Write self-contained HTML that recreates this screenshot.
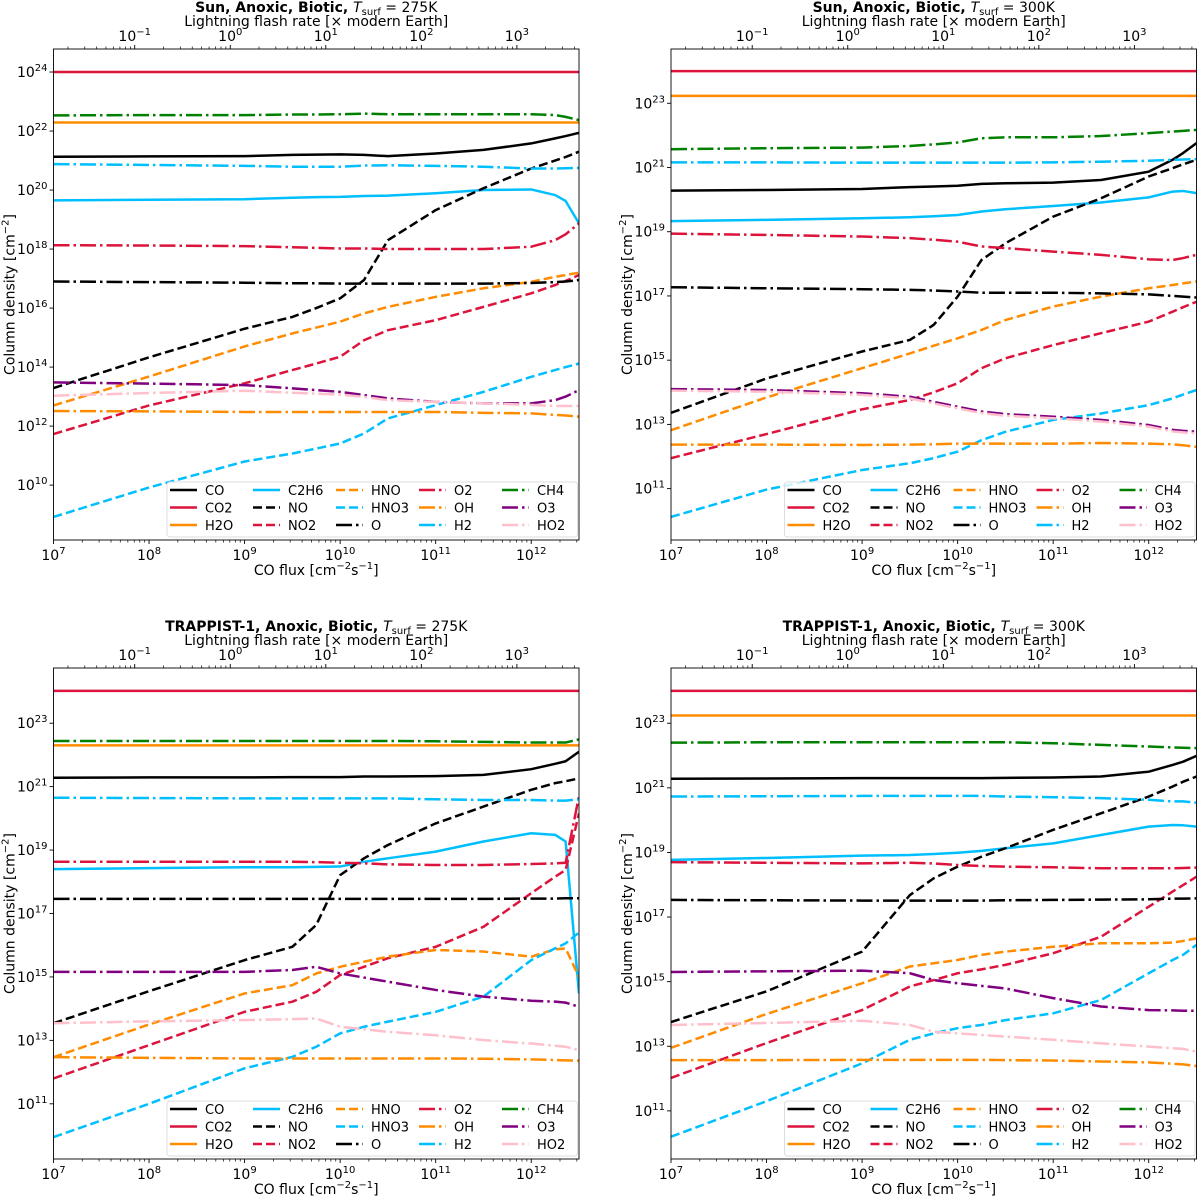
<!DOCTYPE html>
<html><head><meta charset="utf-8"><title>Column densities vs CO flux</title>
<style>
html,body{margin:0;padding:0;background:#fff;}
svg{display:block;font-family:"DejaVu Sans","Liberation Sans",sans-serif;}
</style></head>
<body>
<svg id="fig" width="1200" height="1196" viewBox="0 0 1200 1196" xmlns="http://www.w3.org/2000/svg"></svg>
<script>
// shared x grid: log10 CO flux
const fluxLog = [7,8,9,9.5,9.75,10,10.25,10.5,11,11.5,12,12.25,12.36,12.5];
const species = ["CO","CO2","H2O","C2H6","NO","NO2","HNO","HNO3","O","O2","OH","H2","CH4","O3","HO2"];
const yTicks1 = [10,12,14,16,18,20,22,24];
const yTicks2 = [11,13,15,17,19,21,23];
const xTickLabels = [7,8,9,10,11,12];
const topTickLabels = [-1,0,1,2,3];

// Panel 1: Sun 275K (log10 column density)
const sun275_CO   = [21.13,21.14,21.15,21.19,21.2,21.21,21.19,21.15,21.24,21.36,21.58,21.75,21.83,21.94];
const sun275_CO2  = [24,24,24,24,24,24,24,24,24,24,24,24,24,24];
const sun275_H2O  = [22.29,22.29,22.29,22.29,22.29,22.29,22.29,22.29,22.29,22.29,22.29,22.29,22.29,22.29];
const sun275_C2H6 = [19.65,19.67,19.69,19.74,19.76,19.77,19.8,19.81,19.89,20.0,20.02,19.83,19.63,18.87];
const sun275_NO   = [13.29,14.33,15.3,15.7,16.0,16.33,16.95,18.3,19.32,20.06,20.73,21.0,21.12,21.3];
const sun275_NO2  = [11.73,12.7,13.45,13.9,14.12,14.35,14.91,15.25,15.59,16.04,16.5,16.78,16.92,17.12];
const sun275_HNO  = [12.7,13.68,14.7,15.14,15.34,15.54,15.82,16.04,16.38,16.67,16.89,17.06,17.12,17.2];
const sun275_HNO3 = [8.92,9.92,10.8,11.07,11.24,11.41,11.75,12.26,12.71,13.16,13.67,13.9,14.0,14.12];
const sun275_O    = [16.9,16.88,16.86,16.84,16.84,16.83,16.83,16.83,16.83,16.83,16.85,16.88,16.9,16.95];
const sun275_O2   = [18.13,18.12,18.1,18.06,18.04,18.02,18.02,18.0,18.0,18.0,18.08,18.3,18.5,18.87];
const sun275_OH   = [12.51,12.5,12.48,12.48,12.48,12.48,12.48,12.48,12.48,12.45,12.43,12.38,12.36,12.32];
const sun275_H2   = [20.88,20.85,20.82,20.79,20.79,20.79,20.83,20.84,20.82,20.79,20.73,20.73,20.74,20.75];
const sun275_CH4  = [22.53,22.54,22.54,22.56,22.56,22.57,22.59,22.57,22.57,22.57,22.57,22.54,22.48,22.37];
const sun275_O3   = [13.48,13.44,13.39,13.28,13.22,13.16,13.05,12.94,12.82,12.77,12.77,12.88,13.0,13.22];
const sun275_HO2  = [13.03,13.12,13.2,13.13,13.1,13.07,12.99,12.88,12.82,12.77,12.72,12.68,12.68,12.68];

// Panel 2: Sun 300K
const sun300_CO   = [20.28,20.3,20.33,20.39,20.41,20.43,20.49,20.51,20.53,20.61,20.87,21.24,21.45,21.76];
const sun300_CO2  = [24,24,24,24,24,24,24,24,24,24,24,24,24,24];
const sun300_H2O  = [23.23,23.23,23.23,23.23,23.23,23.23,23.23,23.23,23.23,23.23,23.23,23.23,23.23,23.23];
const sun300_C2H6 = [19.33,19.37,19.42,19.45,19.48,19.52,19.63,19.7,19.8,19.91,20.07,20.25,20.27,20.2];
const sun300_NO   = [13.36,14.43,15.27,15.63,16.1,16.98,18.12,18.64,19.47,20.04,20.72,20.98,21.1,21.24];
const sun300_NO2  = [11.95,12.7,13.47,13.76,14.0,14.28,14.75,15.06,15.47,15.84,16.2,16.51,16.65,16.82];
const sun300_HNO  = [12.82,13.84,14.75,15.21,15.45,15.68,15.94,16.25,16.67,16.98,17.24,17.34,17.39,17.45];
const sun300_HNO3 = [10.12,10.97,11.58,11.79,11.95,12.15,12.51,12.77,13.14,13.34,13.6,13.81,13.93,14.07];
const sun300_O    = [17.27,17.24,17.21,17.19,17.17,17.14,17.1,17.1,17.1,17.08,17.05,17.0,16.98,16.95];
const sun300_O2   = [18.94,18.9,18.85,18.8,18.75,18.69,18.54,18.49,18.38,18.28,18.14,18.12,18.18,18.28];
const sun300_OH   = [12.37,12.37,12.36,12.37,12.38,12.4,12.4,12.4,12.4,12.42,12.4,12.38,12.35,12.3];
const sun300_H2   = [21.16,21.16,21.15,21.15,21.15,21.15,21.15,21.15,21.16,21.18,21.21,21.24,21.25,21.26];
const sun300_CH4  = [21.57,21.6,21.62,21.67,21.72,21.78,21.91,21.94,21.94,21.98,22.07,22.12,22.14,22.17];
const sun300_O3   = [14.1,14.07,13.97,13.86,13.7,13.55,13.4,13.32,13.24,13.14,12.98,12.83,12.8,12.77];
const sun300_HO2  = [14.05,14.02,13.92,13.81,13.65,13.5,13.35,13.27,13.19,13.09,12.93,12.78,12.75,12.72];

// Panel 3: TRAPPIST-1 275K
const trap275_CO   = [21.28,21.29,21.29,21.3,21.3,21.3,21.32,21.32,21.33,21.37,21.55,21.72,21.8,22.1];
const trap275_CO2  = [24.02,24.02,24.02,24.02,24.02,24.02,24.02,24.02,24.02,24.02,24.02,24.02,24.02,24.02];
const trap275_H2O  = [22.3,22.3,22.3,22.3,22.3,22.3,22.3,22.3,22.3,22.3,22.3,22.3,22.3,22.3];
const trap275_C2H6 = [18.4,18.43,18.46,18.46,18.47,18.48,18.63,18.74,18.95,19.27,19.53,19.48,19.27,14.48];
const trap275_NO   = [13.54,14.55,15.53,15.95,16.64,18.21,18.74,19.16,19.84,20.37,20.9,21.11,21.17,21.26];
const trap275_NO2  = [11.8,12.85,13.9,14.22,14.53,15.06,15.32,15.59,15.95,16.58,17.64,18.16,18.37,20.16];
const trap275_HNO  = [12.47,13.5,14.48,14.74,15.11,15.32,15.48,15.64,15.85,15.8,15.64,15.87,15.9,15.0];
const trap275_HNO3 = [9.95,11.0,12.12,12.48,12.8,13.22,13.43,13.59,13.9,14.38,15.53,15.9,16.06,16.4];
const trap275_O    = [17.46,17.46,17.46,17.46,17.46,17.46,17.46,17.46,17.46,17.46,17.47,17.47,17.48,17.48];
const trap275_O2   = [18.63,18.63,18.63,18.63,18.62,18.6,18.58,18.55,18.53,18.53,18.56,18.58,18.6,20.7];
const trap275_OH   = [12.47,12.45,12.43,12.43,12.43,12.43,12.43,12.43,12.43,12.42,12.4,12.38,12.37,12.36];
const trap275_H2   = [20.65,20.64,20.63,20.63,20.63,20.63,20.63,20.63,20.6,20.58,20.58,20.56,20.56,20.6];
const trap275_CH4  = [22.44,22.44,22.44,22.44,22.44,22.44,22.44,22.44,22.43,22.41,22.39,22.39,22.39,22.49];
const trap275_O3   = [15.16,15.16,15.16,15.22,15.32,15.11,14.98,14.85,14.59,14.38,14.25,14.22,14.19,14.06];
const trap275_HO2  = [13.54,13.6,13.64,13.67,13.69,13.43,13.35,13.27,13.16,13.01,12.9,12.83,12.8,12.69];

// Panel 4: TRAPPIST-1 300K
const trap300_CO   = [21.28,21.29,21.3,21.3,21.3,21.3,21.3,21.31,21.32,21.35,21.5,21.71,21.81,21.99];
const trap300_CO2  = [24,24,24,24,24,24,24,24,24,24,24,24,24,24];
const trap300_H2O  = [23.24,23.24,23.24,23.24,23.24,23.24,23.24,23.24,23.24,23.24,23.24,23.24,23.24,23.24];
const trap300_C2H6 = [18.77,18.83,18.9,18.92,18.95,18.99,19.05,19.13,19.28,19.54,19.8,19.85,19.84,19.8];
const trap300_NO   = [13.75,14.7,15.93,17.68,18.2,18.56,18.87,19.13,19.7,20.21,20.73,21.04,21.19,21.35];
const trap300_NO2  = [12.02,13.1,14.12,14.85,15.05,15.26,15.38,15.52,15.88,16.39,17.32,17.79,17.99,18.25];
const trap300_HNO  = [12.95,14.0,14.95,15.47,15.57,15.67,15.83,15.93,16.08,16.19,16.19,16.21,16.26,16.34];
const trap300_HNO3 = [10.2,11.3,12.47,13.2,13.4,13.56,13.66,13.81,14.02,14.43,15.26,15.67,15.83,16.14];
const trap300_O    = [17.53,17.52,17.51,17.51,17.51,17.51,17.51,17.52,17.53,17.54,17.55,17.57,17.57,17.58];
const trap300_O2   = [18.7,18.68,18.66,18.68,18.66,18.61,18.58,18.56,18.54,18.51,18.51,18.51,18.52,18.53];
const trap300_OH   = [12.57,12.57,12.58,12.58,12.58,12.58,12.58,12.57,12.56,12.53,12.5,12.46,12.44,12.39];
const trap300_H2   = [20.73,20.74,20.75,20.75,20.75,20.75,20.75,20.73,20.71,20.68,20.63,20.58,20.58,20.54];
const trap300_CH4  = [22.4,22.41,22.41,22.41,22.41,22.41,22.41,22.41,22.38,22.33,22.28,22.25,22.24,22.23];
const trap300_O3   = [15.3,15.32,15.34,15.26,15.05,14.95,14.87,14.79,14.49,14.23,14.12,14.11,14.1,14.1];
const trap300_HO2  = [13.66,13.72,13.79,13.66,13.45,13.4,13.35,13.3,13.2,13.09,12.99,12.94,12.92,12.83];

const NS = "http://www.w3.org/2000/svg";
const svg = document.getElementById("fig");
const styles = {
  CO:["#000000","solid"], CO2:["#DC143C","solid"], H2O:["#FF8C00","solid"], C2H6:["#00BFFF","solid"],
  NO:["#000000","dash"], NO2:["#DC143C","dash"], HNO:["#FF8C00","dash"], HNO3:["#00BFFF","dash"],
  O:["#000000","dashdot"], O2:["#DC143C","dashdot"], OH:["#FF8C00","dashdot"], H2:["#00BFFF","dashdot"],
  CH4:["#008000","dashdot"], O3:["#800080","dashdot"], HO2:["#FFC0CB","dashdot"]
};
const dashes = {solid:"", dash:"9,4", dashdot:"16,4,2.5,4"};

function mk(tag, attrs, parent){
  const e = document.createElementNS(NS, tag);
  for (const k in attrs) e.setAttribute(k, attrs[k]);
  if (parent) parent.appendChild(e);
  return e;
}
function powText(parent, x, y, base, exp, anchor){
  const t = mk("text",{x:x,y:y,"font-size":14,"text-anchor":anchor,fill:"#000"},parent);
  
  
  const a = document.createElementNS(NS,"tspan"); a.textContent = base; t.appendChild(a);
  const b = mk("tspan",{dy:-6,"font-size":10},t); b.textContent = String(exp).replace("-","\u2212");
  return t;
}

const panels = [
  {key:"sun275", star:"Sun", T:"275K", left:53.5, top:49, ytop:24.78, ybot:8.14, yt:yTicks1},
  {key:"sun300", star:"Sun", T:"300K", left:671, top:49, ytop:24.69, ybot:9.40, yt:yTicks2},
  {key:"trap275", star:"TRAPPIST-1", T:"275K", left:53.5, top:668, ytop:24.74, ybot:9.26, yt:yTicks2},
  {key:"trap300", star:"TRAPPIST-1", T:"300K", left:671, top:668, ytop:24.71, ybot:9.51, yt:yTicks2}
];
const dataSets = {
  sun275:{CO:sun275_CO,CO2:sun275_CO2,H2O:sun275_H2O,C2H6:sun275_C2H6,NO:sun275_NO,NO2:sun275_NO2,HNO:sun275_HNO,HNO3:sun275_HNO3,O:sun275_O,O2:sun275_O2,OH:sun275_OH,H2:sun275_H2,CH4:sun275_CH4,O3:sun275_O3,HO2:sun275_HO2},
  sun300:{CO:sun300_CO,CO2:sun300_CO2,H2O:sun300_H2O,C2H6:sun300_C2H6,NO:sun300_NO,NO2:sun300_NO2,HNO:sun300_HNO,HNO3:sun300_HNO3,O:sun300_O,O2:sun300_O2,OH:sun300_OH,H2:sun300_H2,CH4:sun300_CH4,O3:sun300_O3,HO2:sun300_HO2},
  trap275:{CO:trap275_CO,CO2:trap275_CO2,H2O:trap275_H2O,C2H6:trap275_C2H6,NO:trap275_NO,NO2:trap275_NO2,HNO:trap275_HNO,HNO3:trap275_HNO3,O:trap275_O,O2:trap275_O2,OH:trap275_OH,H2:trap275_H2,CH4:trap275_CH4,O3:trap275_O3,HO2:trap275_HO2},
  trap300:{CO:trap300_CO,CO2:trap300_CO2,H2O:trap300_H2O,C2H6:trap300_C2H6,NO:trap300_NO,NO2:trap300_NO2,HNO:trap300_HNO,HNO3:trap300_HNO3,O:trap300_O,O2:trap300_O2,OH:trap300_OH,H2:trap300_H2,CH4:trap300_CH4,O3:trap300_O3,HO2:trap300_HO2}
};

const W = 525.5, H = 491, XMIN = 7, XMAX = 12.5, LSHIFT = 8.85;

panels.forEach((p, pi) => {
  const g = mk("g",{},svg);
  
  
  const xs = v => p.left + (v - XMIN) / (XMAX - XMIN) * W;
  const ys = v => p.top + (p.ytop - v) / (p.ytop - p.ybot) * H;
  const cx = p.left + W/2;

  const cp = mk("clipPath",{id:"clip"+pi},g);
  mk("rect",{x:p.left,y:p.top,width:W,height:H},cp);

  const sg = mk("g",{"clip-path":"url(#clip"+pi+")"},g);
  species.forEach(sp => {
    const vals = dataSets[p.key][sp];
    const pts = fluxLog.map((lx,i) => xs(lx).toFixed(2)+","+ys(vals[i]).toFixed(2)).join(" ");
    const st = styles[sp];
    const pl = mk("polyline",{points:pts,fill:"none",stroke:st[0],"stroke-width":2.5,"stroke-dasharray":dashes[st[1]],"stroke-linejoin":"round"},sg);
    
    
  });

  const fr = mk("rect",{x:p.left,y:p.top,width:W,height:H,fill:"none",stroke:"#000","stroke-width":0.9},g);
  
  

  xTickLabels.forEach(e => {
    const x = xs(e);
    mk("line",{x1:x,x2:x,y1:p.top+H,y2:p.top+H+4,stroke:"#000","stroke-width":0.9},g);
    powText(g, x, p.top+H+20, "10", e, "middle");
  });
  for (let d = 7; d < 13; d++) for (let s = 2; s <= 9; s++) {
    const v = d + Math.log10(s);
    if (v > XMAX) continue;
    const x = xs(v);
    mk("line",{x1:x,x2:x,y1:p.top+H,y2:p.top+H+2.5,stroke:"#000","stroke-width":0.7},g);
  }
  topTickLabels.forEach(e => {
    const x = xs(e + LSHIFT);
    mk("line",{x1:x,x2:x,y1:p.top,y2:p.top-4,stroke:"#000","stroke-width":0.9},g);
    powText(g, x, p.top-8, "10", e, "middle");
  });
  for (let d = -2; d < 4; d++) for (let s = 2; s <= 9; s++) {
    const v = d + Math.log10(s) + LSHIFT;
    if (v < XMIN || v > XMAX) continue;
    const x = xs(v);
    mk("line",{x1:x,x2:x,y1:p.top,y2:p.top-2.5,stroke:"#000","stroke-width":0.7},g);
  }
  p.yt.forEach(e => {
    const y = ys(e);
    mk("line",{x1:p.left,x2:p.left-4,y1:y,y2:y,stroke:"#000","stroke-width":0.9},g);
    powText(g, p.left-6, y+5, "10", e, "end");
  });

  const yl = mk("text",{x:0,y:0,"font-size":14,"text-anchor":"middle",transform:"translate("+(p.left-39)+","+(p.top+H/2)+") rotate(-90)"},g);
  
  
  yl.textContent = "Column density [cm";
  let ts = mk("tspan",{dy:-6,"font-size":10},yl); ts.textContent = "\u22122";
  ts = mk("tspan",{dy:6},yl); ts.textContent = "]";

  const xl = mk("text",{x:cx,y:p.top+H+35,"font-size":14,"text-anchor":"middle"},g);
  
  
  xl.textContent = "CO flux [cm";
  ts = mk("tspan",{dy:-6,"font-size":10},xl); ts.textContent = "\u22122";
  ts = mk("tspan",{dy:6},xl); ts.textContent = "s";
  ts = mk("tspan",{dy:-6,"font-size":10},xl); ts.textContent = "\u22121";
  ts = mk("tspan",{dy:6},xl); ts.textContent = "]";

  const tl = mk("text",{x:cx,y:p.top-23,"font-size":14,"text-anchor":"middle"},g);
  
  
  tl.textContent = "Lightning flash rate [\u00d7 modern Earth]";

  const tt = mk("text",{x:cx,y:p.top-37,"font-size":14,"text-anchor":"middle"},g);
  
  
  ts = mk("tspan",{"font-weight":"bold"},tt); ts.textContent = p.star + ", Anoxic, Biotic, ";
  ts = mk("tspan",{"font-style":"italic"},tt); ts.textContent = "T";
  ts = mk("tspan",{dy:3,"font-size":10},tt); ts.textContent = "surf";
  ts = mk("tspan",{dy:-3},tt); ts.textContent = " = " + p.T;

  const lg = mk("g",{},g);
  
  
  const lx0 = p.left + 113.5, ly0 = p.top + 433;
  mk("rect",{x:lx0,y:ly0,width:W-115,height:55,rx:3,fill:"#fff","fill-opacity":0.8,stroke:"#ddd","stroke-width":1},lg);
  species.forEach((sp, i) => {
    const col = Math.floor(i/3), row = i % 3;
    const ex = lx0 + 3 + col*83, ey = ly0 + 8 + row*17.5;
    const eg = mk("g",{},lg);
    
    
    const st = styles[sp];
    mk("line",{x1:ex,x2:ex+27,y1:ey,y2:ey,stroke:st[0],"stroke-width":2.5,"stroke-dasharray":dashes[st[1]]},eg);
    const t = mk("text",{x:ex+35,y:ey+5,"font-size":13},eg);
    t.textContent = sp;
  });
});
</script>
</body></html>
